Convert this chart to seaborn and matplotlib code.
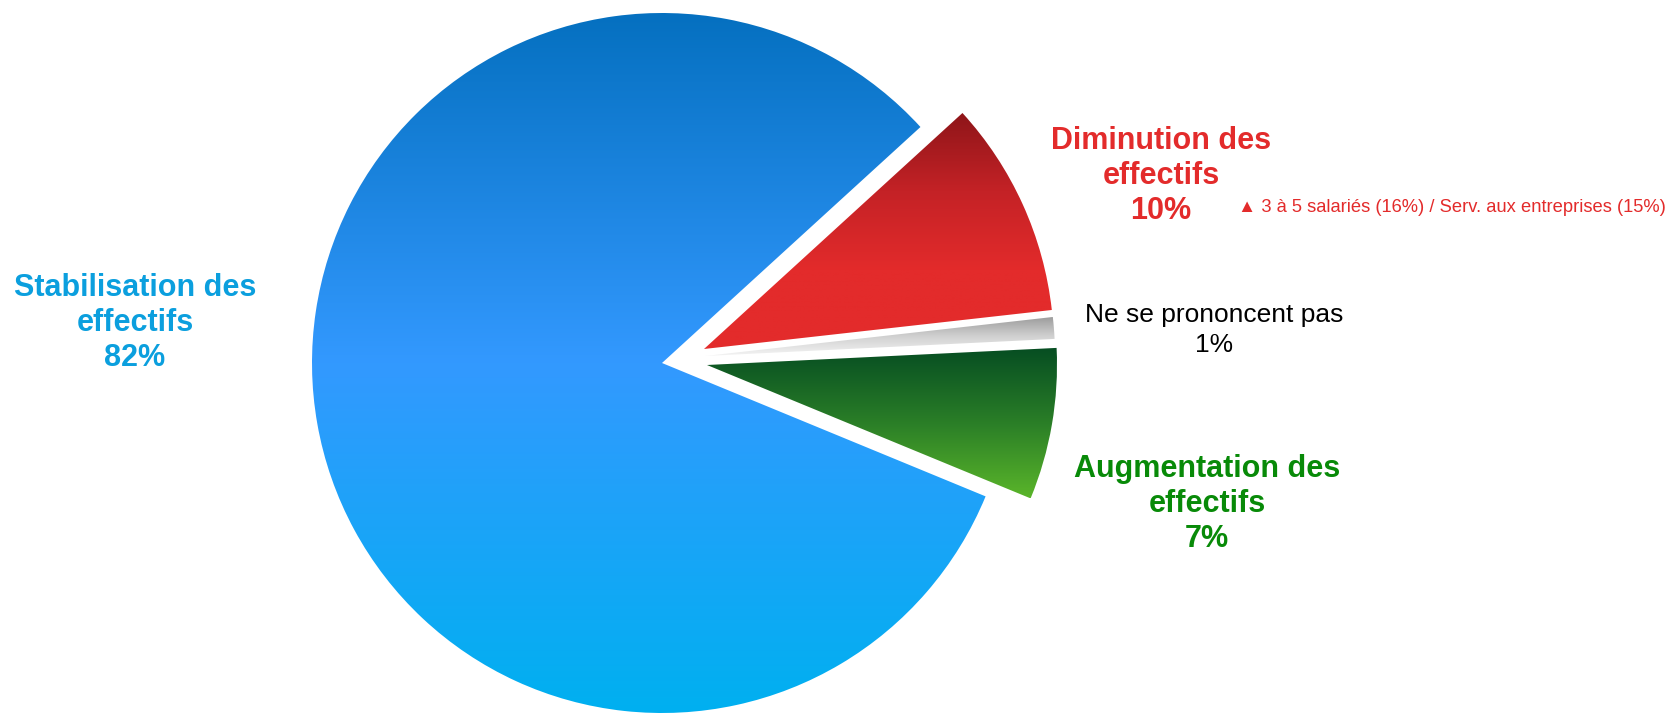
import numpy as np
import matplotlib
matplotlib.use("Agg")
import matplotlib.pyplot as plt
from matplotlib.colors import LinearSegmentedColormap
import seaborn as sns

# data
categories = ["Stabilisation des\neffectifs", "Diminution des\neffectifs",
              "Ne se prononcent pas", "Augmentation des\neffectifs"]
values = [82, 10, 1, 7]
note_text = "\u25b2 3 à 5 salariés (16%) / Serv. aux entreprises (15%)"

sns.set_theme(style="white")
plt.rcParams['font.family'] = ['Liberation Sans', 'DejaVu Sans']

W, H = 1673, 713
fig = plt.figure(figsize=(W / 100, H / 100), dpi=100)
ax = fig.add_axes([0, 0, 1, 1])
ax.set_xlim(0, W)
ax.set_ylim(0, H)
ax.set_aspect('equal')
ax.axis('off')

cx, cy, R = 662, H - 363, 350
wedges, _ = ax.pie(values, startangle=-22.4, counterclock=False,
                   center=(cx, cy), radius=R,
                   colors=["none"] * 4, wedgeprops=dict(linewidth=0))
ax.set_xlim(0, W)
ax.set_ylim(0, H)

# pull the three small slices out to the right
shifts = [(0, 0), (42, 14), (43, 7), (45, -2)]
for w, (dx, dy) in zip(wedges, shifts):
    w.set_center((cx + dx, cy + dy))

# vertical gradients (top colour first)
grads = [
    ["#0570c0", "#3399ff", "#00b0f0"],
    ["#8e1519", "#c42226", "#e32b2b", "#e32b2b"],
    ["#9a9a9a", "#d0d0d0", "#f4f4f4"],
    ["#064d22", "#2a7e27", "#5ab52a"],
]
for w, cols in zip(wedges, grads):
    bb = w.get_path().get_extents()
    cmap = LinearSegmentedColormap.from_list("g", cols)
    grad = np.linspace(1, 0, 256).reshape(-1, 1)
    im = ax.imshow(grad, cmap=cmap, aspect='auto', origin='lower',
                   extent=[bb.x0, bb.x1, bb.y0, bb.y1], zorder=1)
    im.set_clip_path(w)

# labels
ax.text(135, H - 323, categories[0] + "\n82%", ha='center', va='center',
        fontsize=22, fontweight='bold', color="#0b9fde", linespacing=1.21)
ax.text(1161, H - 176, categories[1] + "\n10%", ha='center', va='center',
        fontsize=22, fontweight='bold', color="#e32b2b", linespacing=1.21)
ax.text(1238, H - 207, note_text, ha='left', va='center',
        fontsize=13.2, color="#e32b2b")
ax.text(1214, H - 330, categories[2] + "\n1%", ha='center', va='center',
        fontsize=19, color="black", linespacing=1.3)
ax.text(1207, H - 504, categories[3] + "\n7%", ha='center', va='center',
        fontsize=22, fontweight='bold', color="#088a08", linespacing=1.21)

fig.savefig("out.png", dpi=100)
